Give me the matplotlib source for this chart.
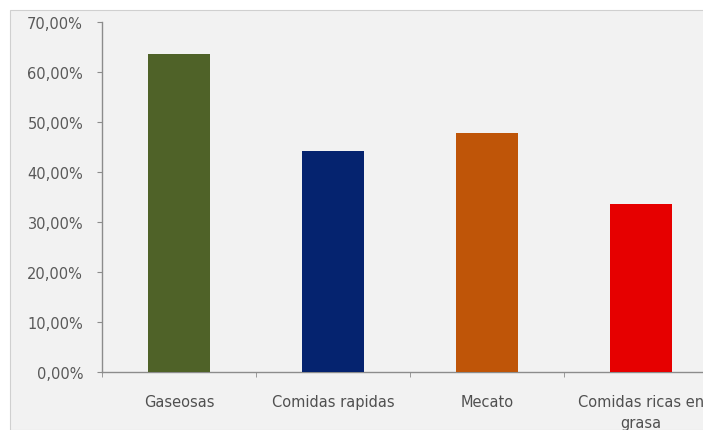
import matplotlib
matplotlib.use("Agg")
import matplotlib.pyplot as plt
from matplotlib.patches import Rectangle
from matplotlib.ticker import FuncFormatter

categories = ["Gaseosas", "Comidas rapidas", "Mecato", "Comidas ricas en\ngrasa"]
values = [63.7, 44.2, 47.9, 33.6]
colors = ["#4f6228", "#05236f", "#bf5508", "#e60000"]
ytick_values = [0, 10, 20, 30, 40, 50, 60, 70]

fig = plt.figure(figsize=(7.03, 4.31), dpi=100)
fig.patch.set_facecolor("white")
bg = Rectangle((10 / 703, 0), 1, 1 - 11 / 431, transform=fig.transFigure,
               facecolor="#f2f2f2", edgecolor="#d0d0d0", linewidth=0.8, zorder=-10)
fig.patches.append(bg)

ax = fig.add_axes([102 / 703, 58 / 431, 616 / 703, 350 / 431])
ax.set_facecolor("none")
x = list(range(len(categories)))
ax.bar(x, values, width=0.4, color=colors, zorder=3)
ax.set_xlim(-0.5, len(categories) - 0.5)
ax.set_ylim(0, 70)
ax.set_yticks(ytick_values)
ax.yaxis.set_major_formatter(FuncFormatter(lambda v, p: f"{v:.2f}%".replace(".", ",")))
ax.set_xticks(x)
ax.set_xticklabels(categories)
ax.set_xticks([i - 0.5 for i in range(len(categories) + 1)], minor=True)

for s in ["top", "right"]:
    ax.spines[s].set_visible(False)
for s in ["left", "bottom"]:
    ax.spines[s].set_color("#8c8c8c")
    ax.spines[s].set_linewidth(1.0)

ax.tick_params(axis="y", direction="out", length=3.6, color="#8c8c8c",
               labelsize=10.5, labelcolor="#595959", pad=10)
ax.tick_params(axis="x", which="major", length=0, labelsize=10.5,
               labelcolor="#505050", pad=16)
ax.tick_params(axis="x", which="minor", direction="out", length=3.6, color="#8c8c8c")
for lbl in ax.get_xticklabels() + ax.get_yticklabels():
    lbl.set_fontfamily("DejaVu Sans")
for lbl in ax.get_xticklabels():
    lbl.set_linespacing(1.45)

fig.savefig("out.png", dpi=100)
